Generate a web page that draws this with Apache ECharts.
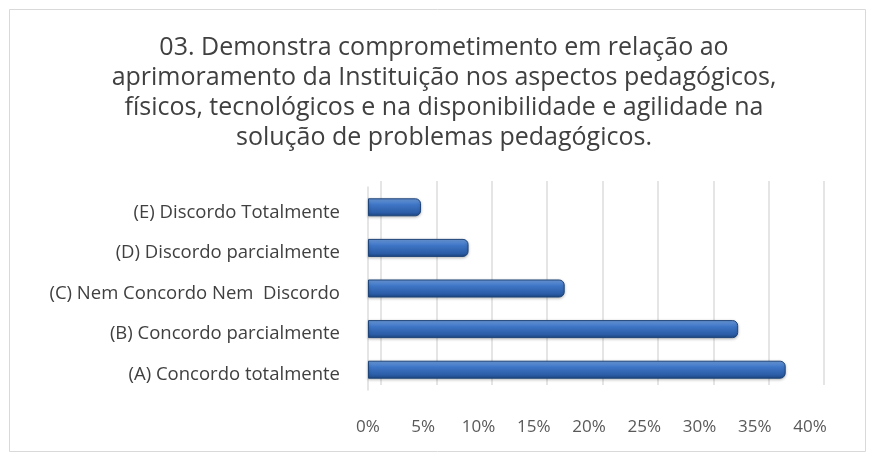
<!DOCTYPE html>
<html>
<head>
<meta charset="utf-8">
<script src="https://cdn.jsdelivr.net/npm/echarts@6/dist/echarts.min.js"></script>
<style>
html,body{margin:0;padding:0;background:#fff;}
#c{width:872px;height:456px;}
</style>
</head>
<body>
<div id="c"></div>
<script>
const titleLines = [
  "03. Demonstra comprometimento em relação ao",
  "aprimoramento da Instituição nos aspectos pedagógicos,",
  "físicos, tecnológicos e na disponibilidade e agilidade na",
  "solução de problemas pedagógicos."
];
const categories = [
  "(A) Concordo totalmente",
  "(B) Concordo parcialmente",
  "(C) Nem Concordo Nem  Discordo",
  "(D) Discordo parcialmente",
  "(E) Discordo Totalmente"
];
const values = [37.8, 33.5, 17.8, 9.1, 4.8];
const xMin = 0, xMax = 40, xStep = 5;

const chart = echarts.init(document.getElementById('c'), null, {renderer: 'canvas'});
const font = '"Open Sans", sans-serif';
const barGrad = new echarts.graphic.LinearGradient(0, 0, 0, 1, [
  {offset: 0, color: '#6f9fe0'},
  {offset: 0.35, color: '#3f76c6'},
  {offset: 0.8, color: '#2b5ca6'},
  {offset: 1, color: '#1c4680'}
]);
chart.setOption({
  animation: false,
  backgroundColor: '#fff',
  title: {
    text: titleLines.join('\n'),
    left: 439,
    textAlign: 'center',
    top: 28,
    textStyle: {fontFamily: font, fontSize: 25, fontWeight: 'normal', color: '#404040', lineHeight: 30}
  },
  graphic: [{
    type: 'rect', shape: {x: 9.5, y: 9.5, width: 856, height: 442},
    style: {fill: 'none', stroke: '#d9d9d9', lineWidth: 1}, silent: true, z: -10
  }],
  grid: [
    {left: 381, right: 48, top: 181, bottom: 71},
    {left: 368, right: 62, top: 187, bottom: 66},
    {left: 368, right: 62, top: 192, bottom: 61}
  ],
  xAxis: [
    {gridIndex: 0, type: 'value', min: xMin, max: xMax, interval: xStep,
     axisLabel: {show: false}, axisLine: {show: false}, axisTick: {show: false},
     splitLine: {show: true, lineStyle: {color: '#dcdcdc', width: 1.5}}},
    {gridIndex: 1, type: 'value', min: xMin, max: xMax, interval: xStep,
     axisLine: {show: false}, axisTick: {show: false}, splitLine: {show: false},
     axisLabel: {margin: 29, fontFamily: font, fontSize: 17, color: '#595959',
       formatter: v => v + '%'}},
    {gridIndex: 2, type: 'value', min: xMin, max: xMax, show: false}
  ],
  yAxis: [
    {gridIndex: 0, type: 'category', data: categories, show: false},
    {gridIndex: 1, type: 'category', data: categories,
     axisLine: {show: true, lineStyle: {color: '#dcdcdc', width: 1.5}},
     axisTick: {show: false}, axisLabel: {show: false}},
    {gridIndex: 2, type: 'category', data: categories,
     axisLine: {show: false}, axisTick: {show: false},
     axisLabel: {margin: 28, fontFamily: font, fontSize: 18.5, color: '#404040'}}
  ],
  series: [{
    type: 'bar', xAxisIndex: 1, yAxisIndex: 1, data: values, barWidth: 18,
    itemStyle: {color: barGrad, borderColor: '#1f4478', borderWidth: 1, borderRadius: [0, 5, 5, 0],
      shadowColor: 'rgba(0,0,0,0.25)', shadowBlur: 3, shadowOffsetY: 1}
  }]
});
</script>
</body>
</html>
